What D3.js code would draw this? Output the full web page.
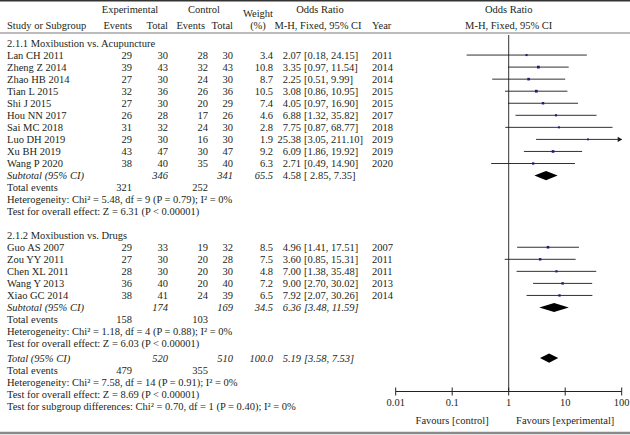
<!DOCTYPE html>
<html>
<head>
<meta charset="utf-8">
<script src="https://cdn.jsdelivr.net/npm/d3@7"></script>
<style>
  body { margin: 0; background: #fff; }
  svg { display: block; }
  text { font-family: "Liberation Serif", "Times New Roman", serif; font-size: 10.5px; fill: #231f20; }
  .it { font-style: italic; }
</style>
</head>
<body>
<div id="forest"></div>
<script>
// study rows (two subgroups)
const studies = ["Lan CH 2011", "Zheng Z 2014", "Zhao HB 2014", "Tian L 2015", "Shi J 2015",
  "Hou NN 2017", "Sai MC 2018", "Luo DH 2019", "Xu BH 2019", "Wang P 2020",
  "Guo AS 2007", "Zou YY 2011", "Chen XL 2011", "Wang Y 2013", "Xiao GC 2014"];
const group = [1, 1, 1, 1, 1, 1, 1, 1, 1, 1, 2, 2, 2, 2, 2];
const expEvents = [29, 39, 27, 32, 27, 26, 31, 29, 43, 38, 29, 27, 28, 36, 38];
const expTotal = [30, 43, 30, 36, 30, 28, 32, 30, 47, 40, 33, 30, 30, 40, 41];
const ctlEvents = [28, 32, 24, 26, 20, 17, 24, 16, 30, 35, 19, 20, 20, 20, 24];
const ctlTotal = [30, 43, 30, 36, 29, 26, 30, 30, 47, 40, 32, 28, 30, 40, 39];
const weights = [3.4, 10.8, 8.7, 10.5, 7.4, 4.6, 2.8, 1.9, 9.2, 6.3, 8.5, 7.5, 4.8, 7.2, 6.5];
const orValue = [2.07, 3.35, 2.25, 3.08, 4.05, 6.88, 7.75, 25.38, 6.09, 2.71, 4.96, 3.60, 7.00, 9.00, 7.92];
const ciLow = [0.18, 0.97, 0.51, 0.86, 0.97, 1.32, 0.87, 3.05, 1.86, 0.49, 1.41, 0.85, 1.38, 2.70, 2.07];
const ciHigh = [24.15, 11.54, 9.99, 10.95, 16.90, 35.82, 68.77, 211.10, 19.92, 14.90, 17.51, 15.31, 35.48, 30.02, 30.26];
const years = [2011, 2014, 2014, 2015, 2015, 2017, 2018, 2019, 2019, 2020, 2007, 2011, 2011, 2013, 2014];

// pooled rows: subgroup 1, subgroup 2, overall
const pooledLabel = ["Subtotal (95% CI)", "Subtotal (95% CI)", "Total (95% CI)"];
const pooledExpTotal = [346, 174, 520];
const pooledCtlTotal = [341, 169, 510];
const pooledWeight = ["65.5", "34.5", "100.0"];
const pooledOR = [4.58, 6.36, 5.19];
const pooledLow = [2.85, 3.48, 3.58];
const pooledHigh = [7.35, 11.59, 7.53];
const pooledExpEvents = [321, 158, 479];
const pooledCtlEvents = [252, 103, 355];
const heterogeneity = [
  ["5.48", "9", "0.79", "0%"],
  ["1.18", "4", "0.88", "0%"],
  ["7.58", "14", "0.91", "0%"]
];
const overallZ = ["6.31", "6.03", "8.69"];
const subgroupNames = ["2.1.1 Moxibustion vs. Acupuncture", "2.1.2 Moxibustion vs. Drugs"];
const subgroupTest = ["0.70", "1", "0.40", "0%"];
const axisTicks = [0.01, 0.1, 1, 10, 100];
const axisTickLabels = ["0.01", "0.1", "1", "10", "100"];

const width = 630, height = 435;
const svg = d3.select("#forest").append("svg")
  .attr("width", width).attr("height", height);

// row index -> y centre
const y = d3.scaleLinear().domain([0, 1]).range([43, 55.05]);
const x = d3.scaleLog().domain([0.01, 100]).range([395.7, 621.7]);

const col = { study: 7, expE: 132, expT: 168, ctlE: 208, ctlT: 233, w: 273, or: 301, ci: 304, year: 372 };
const fmt = d3.format(".2f");

function txt(xp, row, s, anchor, cls) {
  return svg.append("text")
    .attr("x", xp).attr("y", y(row) + 3.7)
    .attr("text-anchor", anchor || "start")
    .attr("class", cls || null)
    .text(s);
}

// borders
svg.append("line").attr("x1", 0).attr("x2", width).attr("y1", 0.75).attr("y2", 0.75)
  .attr("stroke", "#333").attr("stroke-width", 1.5);
svg.append("line").attr("x1", 0).attr("x2", width).attr("y1", 433).attr("y2", 433)
  .attr("stroke", "#8a8a8a").attr("stroke-width", 2.5);
svg.append("line").attr("x1", 0).attr("x2", width).attr("y1", 33).attr("y2", 33)
  .attr("stroke", "#555").attr("stroke-width", 0.8);

// header
const hdr = (xp, yp, s, anchor) => svg.append("text").attr("x", xp).attr("y", yp)
  .attr("text-anchor", anchor).text(s);
hdr(130, 13, "Experimental", "middle");
hdr(204, 13, "Control", "middle");
hdr(258, 17, "Weight", "middle");
hdr(320, 13, "Odds Ratio", "middle");
hdr(x(1), 13, "Odds Ratio", "middle");
hdr(col.study, 29, "Study or Subgroup", "start");
hdr(col.expE, 29, "Events", "end");
hdr(col.expT, 29, "Total", "end");
hdr(205, 29, "Events", "end");
hdr(col.ctlT, 29, "Total", "end");
hdr(258, 29, "(%)", "middle");
hdr(318, 29, "M-H, Fixed, 95% CI", "middle");
hdr(col.year, 29, "Year", "start");
hdr(x(1), 29, "M-H, Fixed, 95% CI", "middle");

// row layout
const startRow = [0, 15.95];
const studyRow = studies.map((s, i) => startRow[group[i] - 1] + 1 + (i - group.indexOf(group[i])));
const pooledRow = [studyRow[9] + 1, studyRow[14] + 1, 26.15];

// vertical line of no effect
svg.append("line")
  .attr("x1", x(1)).attr("x2", x(1)).attr("y1", 35).attr("y2", 391.5)
  .attr("stroke", "#333").attr("stroke-width", 1);

// subgroup titles
subgroupNames.forEach((s, g) => txt(col.study, startRow[g], s, "start"));

// studies
studies.forEach((s, i) => {
  const r = studyRow[i];
  txt(col.study, r, s);
  txt(col.expE, r, expEvents[i], "end");
  txt(col.expT, r, expTotal[i], "end");
  txt(col.ctlE, r, ctlEvents[i], "end");
  txt(col.ctlT, r, ctlTotal[i], "end");
  txt(col.w, r, weights[i].toFixed(1), "end");
  txt(col.or, r, fmt(orValue[i]), "end");
  txt(col.ci, r, `[${fmt(ciLow[i])}, ${fmt(ciHigh[i])}]`);
  txt(col.year, r, years[i]);
});

const idx = studies.map((s, i) => i);
const plot = svg.append("g");
plot.selectAll("line.ci")
  .data(idx)
  .join("line")
  .attr("class", "ci")
  .attr("x1", i => x(Math.max(ciLow[i], 0.01)))
  .attr("x2", i => x(Math.min(ciHigh[i], 100)))
  .attr("y1", i => y(studyRow[i])).attr("y2", i => y(studyRow[i]))
  .attr("stroke", "#1a1a1a").attr("stroke-width", 0.9);

// arrows for CI beyond the axis
plot.selectAll("path.arrow")
  .data(idx.filter(i => ciHigh[i] > 100))
  .join("path")
  .attr("class", "arrow")
  .attr("d", i => {
    const xe = x(100), ye = y(studyRow[i]);
    return `M${xe - 4},${ye - 2.6}L${xe + 0.5},${ye}L${xe - 4},${ye + 2.6}Z`;
  })
  .attr("fill", "#1a1a1a");

plot.selectAll("rect.box")
  .data(idx)
  .join("rect")
  .attr("class", "box")
  .each(function (i) {
    const sz = 1.7 + weights[i] * 0.1;
    d3.select(this)
      .attr("x", x(orValue[i]) - sz / 2)
      .attr("y", y(studyRow[i]) - sz / 2)
      .attr("width", sz).attr("height", sz);
  })
  .attr("fill", "#1c1c78");

// pooled rows
pooledLabel.forEach((lab, k) => {
  const r = pooledRow[k];
  txt(col.study, r, lab, "start", "it");
  txt(col.expT, r, pooledExpTotal[k], "end", "it");
  txt(col.ctlT, r, pooledCtlTotal[k], "end", "it");
  txt(col.w, r, pooledWeight[k], "end", "it");
  const orCls = k === 0 ? null : "it";
  txt(col.or, r, fmt(pooledOR[k]), "end", orCls);
  txt(col.ci, r, k === 0 ? `[ ${fmt(pooledLow[k])}, ${fmt(pooledHigh[k])}]` : `[${fmt(pooledLow[k])}, ${fmt(pooledHigh[k])}]`, "start", orCls);

  const yc = y(r), h = 4.6;
  plot.append("path")
    .attr("d", `M${x(pooledLow[k])},${yc}L${x(pooledOR[k])},${yc - h}L${x(pooledHigh[k])},${yc}L${x(pooledOR[k])},${yc + h}Z`)
    .attr("fill", "#000");

  txt(col.study, r + 1, "Total events");
  txt(col.expE, r + 1, pooledExpEvents[k], "end");
  txt(col.ctlE, r + 1, pooledCtlEvents[k], "end");

  const [chi, df, p, i2] = heterogeneity[k];
  txt(col.study, r + 2, `Heterogeneity: Chi² = ${chi}, df = ${df} (P = ${p}); I² = ${i2}`);
  txt(col.study, r + 3, `Test for overall effect: Z = ${overallZ[k]} (P < 0.00001)`);
});

const [sc, sd, sp, si] = subgroupTest;
txt(col.study, pooledRow[2] + 4, `Test for subgroup differences: Chi² = ${sc}, df = ${sd} (P = ${sp}); I² = ${si}`);

// axis
const axisY = 391.5;
const ax = svg.append("g");
ax.append("line").attr("x1", x(0.01)).attr("x2", x(100)).attr("y1", axisY).attr("y2", axisY)
  .attr("stroke", "#222").attr("stroke-width", 1);
ax.selectAll("line.tick").data(axisTicks).join("line")
  .attr("class", "tick")
  .attr("x1", d => x(d)).attr("x2", d => x(d))
  .attr("y1", axisY - 4).attr("y2", axisY + 4)
  .attr("stroke", "#222").attr("stroke-width", 1);
ax.selectAll("text.tl").data(axisTicks).join("text")
  .attr("class", "tl")
  .attr("x", d => x(d)).attr("y", 406)
  .attr("text-anchor", "middle")
  .text((d, i) => axisTickLabels[i]);
ax.append("text").attr("x", x(0.1)).attr("y", 424).attr("text-anchor", "middle").text("Favours [control]");
ax.append("text").attr("x", x(10)).attr("y", 424).attr("text-anchor", "middle").text("Favours [experimental]");
</script>
</body>
</html>
